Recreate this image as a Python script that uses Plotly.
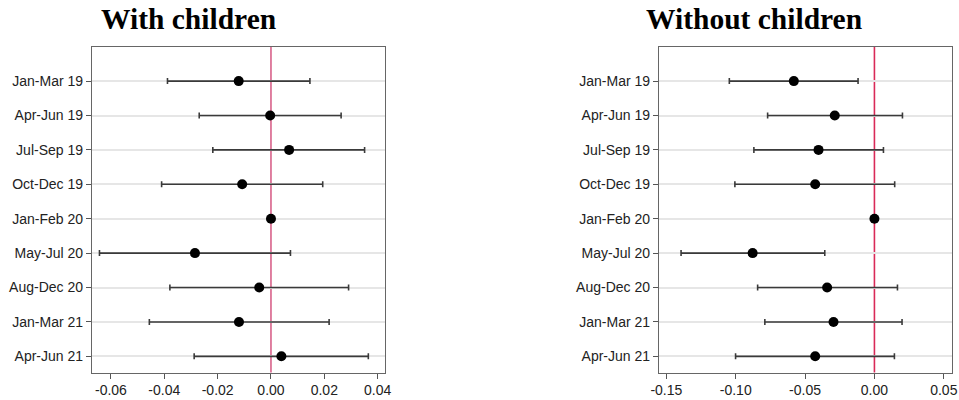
import plotly.graph_objects as go

periods = ["Jan-Mar 19", "Apr-Jun 19", "Jul-Sep 19", "Oct-Dec 19", "Jan-Feb 20",
           "May-Jul 20", "Aug-Dec 20", "Jan-Mar 21", "Apr-Jun 21"]

with_est = [-0.0121, -0.0003, 0.0068, -0.0108, 0.0, -0.0285, -0.0044, -0.0120, 0.0039]
with_lo = [-0.0388, -0.0269, -0.0218, -0.0410, 0.0, -0.0643, -0.0379, -0.0456, -0.0288]
with_hi = [0.0146, 0.0263, 0.0351, 0.0194, 0.0, 0.0073, 0.0291, 0.0218, 0.0365]

without_est = [-0.0581, -0.0286, -0.0403, -0.0427, 0.0, -0.0878, -0.0341, -0.0295, -0.0427]
without_lo = [-0.1046, -0.0770, -0.0869, -0.1006, 0.0, -0.1394, -0.0842, -0.0790, -0.1001]
without_hi = [-0.0118, 0.0202, 0.0065, 0.0146, 0.0, -0.0358, 0.0166, 0.0199, 0.0144]

titles = ["With children", "Without children"]
left_ticks = [-0.06, -0.04, -0.02, 0.00, 0.02, 0.04]
right_ticks = [-0.15, -0.10, -0.05, 0.00, 0.05]

ypos = list(range(1, len(periods) + 1))

fig = go.Figure()

panels = [
    dict(est=with_est, lo=with_lo, hi=with_hi, xa="x", ya="y",
         dom=[92 / 959, 385 / 959], rng=[-0.0671, 0.04275], ticks=left_ticks,
         zero_col="#d8628a", title_x=188 / 959),
    dict(est=without_est, lo=without_lo, hi=without_hi, xa="x2", ya="y2",
         dom=[659 / 959, 951.7 / 959], rng=[-0.1553, 0.0557], ticks=right_ticks,
         zero_col="#d92a58", title_x=754 / 959),
]

ydom = [1 - 372.5 / 400, 1 - 46.7 / 400]
tfont = dict(family="Liberation Sans, Arial", size=14, color="#222")

for i, p in enumerate(panels):
    plus = [h - e for h, e in zip(p["hi"], p["est"])]
    minus = [e - l for e, l in zip(p["est"], p["lo"])]
    # zero reference line
    fig.add_shape(type="line", xref=p["xa"], yref=p["ya"] + " domain",
                  x0=0, x1=0, y0=0, y1=1,
                  line=dict(color=p["zero_col"], width=1.6), layer="below")
    fig.add_trace(go.Scatter(
        x=p["est"], y=ypos, mode="markers", xaxis=p["xa"], yaxis=p["ya"],
        marker=dict(color="black", size=10),
        error_x=dict(type="data", symmetric=False, array=plus, arrayminus=minus,
                     color="#3a3a3a", thickness=1.6, width=3),
        showlegend=False, hoverinfo="x+y"))
    sfx = "" if i == 0 else "2"
    fig.layout["xaxis" + sfx] = dict(
        domain=p["dom"], range=p["rng"], anchor=p["ya"], automargin=False,
        tickvals=p["ticks"], ticktext=[f"{t:.2f}" for t in p["ticks"]],
        ticks="outside", ticklen=5, tickcolor="#555", tickwidth=1,
        showline=True, linecolor="#666", linewidth=1.3, mirror=True,
        showgrid=False, zeroline=False, tickfont=tfont)
    fig.layout["yaxis" + sfx] = dict(
        domain=ydom, range=[9.47, 0.0], anchor=p["xa"], automargin=False,
        tickvals=ypos, ticktext=periods,
        ticks="outside", ticklen=5, tickcolor="#555", tickwidth=1,
        showline=True, linecolor="#666", linewidth=1.3, mirror=True,
        showgrid=True, gridcolor="#e6e6e6", gridwidth=2, zeroline=False,
        tickfont=tfont)
    fig.add_annotation(
        text=f"<b>{titles[i]}</b>", xref="paper", yref="paper",
        x=p["title_x"], y=1 - 19 / 400,
        xanchor="center", yanchor="middle", showarrow=False,
        font=dict(family="Liberation Serif, Times New Roman", size=29.5, color="black"))

fig.update_layout(
    width=959, height=400,
    margin=dict(l=0, r=0, t=0, b=0, autoexpand=False),
    plot_bgcolor="white", paper_bgcolor="white",
)

fig.write_html("out.html", config={"displayModeBar": False},
               post_script="document.body.style.margin='0';")
